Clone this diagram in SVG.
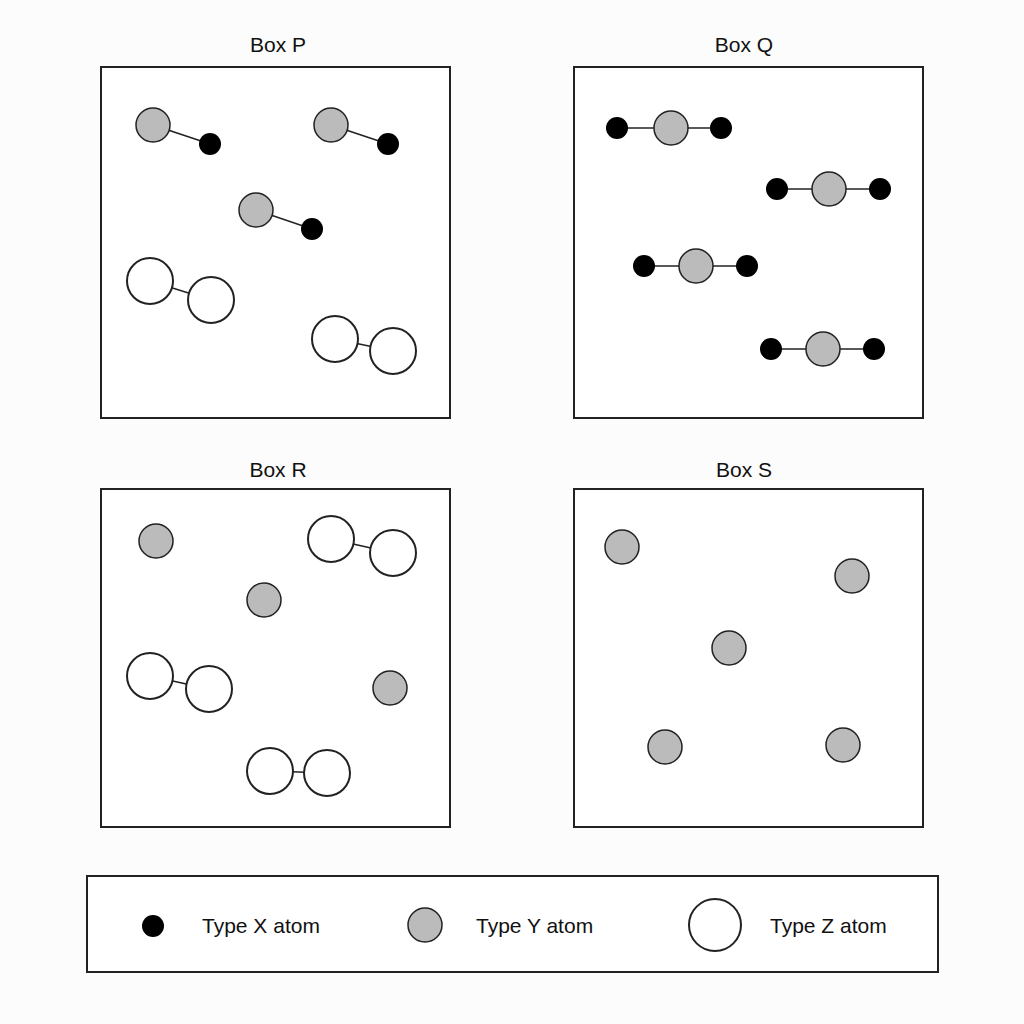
<svg xmlns="http://www.w3.org/2000/svg" width="1024" height="1024" viewBox="0 0 1024 1024">
<style>
.box{fill:#fff;stroke:#222;stroke-width:2}
.t{font-family:"Liberation Sans",Arial,sans-serif;font-size:21px;fill:#111;text-anchor:middle}
.l{font-family:"Liberation Sans",Arial,sans-serif;font-size:21px;fill:#111}
.x{fill:#000}
.y{fill:#bbb;stroke:#222;stroke-width:1.5}
.z{fill:#fff;stroke:#222;stroke-width:2}
.b{stroke:#222;stroke-width:1.5}
</style>
<rect width="1024" height="1024" fill="#fcfcfc"/>
<g id="boxP">
<rect class="box" x="101" y="67" width="349" height="351"/>
<text class="t" x="278" y="52">Box P</text>
<g class="b"><line x1="153" y1="125" x2="210" y2="144"/><line x1="331" y1="125" x2="388" y2="144"/><line x1="256" y1="210" x2="312" y2="229"/><line x1="150" y1="281" x2="211" y2="300"/><line x1="335" y1="339" x2="393" y2="351"/></g>
<circle class="y" cx="153" cy="125" r="17"/><circle class="x" cx="210" cy="144" r="11"/>
<circle class="y" cx="331" cy="125" r="17"/><circle class="x" cx="388" cy="144" r="11"/>
<circle class="y" cx="256" cy="210" r="17"/><circle class="x" cx="312" cy="229" r="11"/>
<circle class="z" cx="150" cy="281" r="23"/><circle class="z" cx="211" cy="300" r="23"/>
<circle class="z" cx="335" cy="339" r="23"/><circle class="z" cx="393" cy="351" r="23"/>
</g>
<g id="boxQ">
<rect class="box" x="574" y="67" width="349" height="351"/>
<text class="t" x="744" y="52">Box Q</text>
<g class="b"><line x1="617" y1="128" x2="721" y2="128"/><line x1="777" y1="189" x2="880" y2="189"/><line x1="644" y1="266" x2="747" y2="266"/><line x1="771" y1="349" x2="874" y2="349"/></g>
<circle class="x" cx="617" cy="128" r="11"/><circle class="y" cx="671" cy="128" r="17"/><circle class="x" cx="721" cy="128" r="11"/>
<circle class="x" cx="777" cy="189" r="11"/><circle class="y" cx="829" cy="189" r="17"/><circle class="x" cx="880" cy="189" r="11"/>
<circle class="x" cx="644" cy="266" r="11"/><circle class="y" cx="696" cy="266" r="17"/><circle class="x" cx="747" cy="266" r="11"/>
<circle class="x" cx="771" cy="349" r="11"/><circle class="y" cx="823" cy="349" r="17"/><circle class="x" cx="874" cy="349" r="11"/>
</g>
<g id="boxR">
<rect class="box" x="101" y="489" width="349" height="338"/>
<text class="t" x="278" y="477">Box R</text>
<g class="b"><line x1="331" y1="539" x2="393" y2="553"/><line x1="150" y1="676" x2="209" y2="689"/><line x1="270" y1="771" x2="327" y2="773"/></g>
<circle class="y" cx="156" cy="541" r="17"/><circle class="y" cx="264" cy="600" r="17"/><circle class="y" cx="390" cy="688" r="17"/>
<circle class="z" cx="331" cy="539" r="23"/><circle class="z" cx="393" cy="553" r="23"/>
<circle class="z" cx="150" cy="676" r="23"/><circle class="z" cx="209" cy="689" r="23"/>
<circle class="z" cx="270" cy="771" r="23"/><circle class="z" cx="327" cy="773" r="23"/>
</g>
<g id="boxS">
<rect class="box" x="574" y="489" width="349" height="338"/>
<text class="t" x="744" y="477">Box S</text>
<circle class="y" cx="622" cy="547" r="17"/><circle class="y" cx="852" cy="576" r="17"/><circle class="y" cx="729" cy="648" r="17"/><circle class="y" cx="665" cy="747" r="17"/><circle class="y" cx="843" cy="745" r="17"/>
</g>
<g id="legend">
<rect class="box" x="87" y="876" width="851" height="96"/>
<circle class="x" cx="153" cy="926" r="11"/><text class="l" x="202" y="933">Type X atom</text>
<circle class="y" cx="425" cy="925" r="17"/><text class="l" x="476" y="933">Type Y atom</text>
<circle class="z" cx="715" cy="925" r="26"/><text class="l" x="770" y="933">Type Z atom</text>
</g>
</svg>
